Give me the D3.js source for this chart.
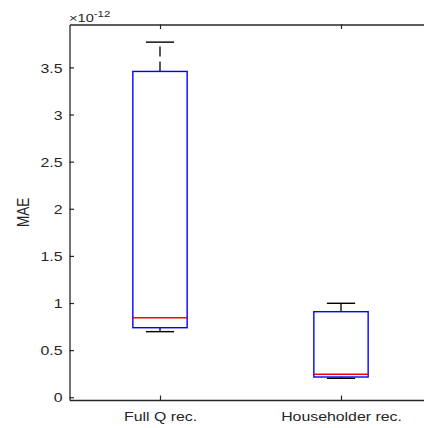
<!DOCTYPE html>
<html>
<head>
<meta charset="utf-8">
<script src="https://cdn.jsdelivr.net/npm/d3@7"></script>
<style>
  html, body { margin: 0; padding: 0; background: #fff; overflow: hidden; }
  svg { display: block; }
  text { font-family: "Liberation Sans", Arial, Helvetica, sans-serif; fill: #262626; }
</style>
</head>
<body>
<svg id="chart" width="424" height="428"></svg>
<script>
// ---- data (units of 1e-12) ----
const categories   = ["Full Q rec.", "Householder rec."];
const whiskerLow   = [0.696, 0.201];
const q1           = [0.738, 0.215];
const medians      = [0.844, 0.244];
const q3           = [3.457, 0.908];
const whiskerHigh  = [3.768, 0.997];
const yTickValues  = [0, 0.5, 1, 1.5, 2, 2.5, 3, 3.5];
const yTickLabels  = ["0", "0.5", "1", "1.5", "2", "2.5", "3", "3.5"];
const yLabel       = "MAE";
const exponentBase = "\u00d710";
const exponentPow  = "-12";

(function () {
// ---- layout ----
const svg = d3.select("#chart");
const mLeft = 69.5, mRight = 431.5, mTop = 24.5, mBottom = 400;
const sx = 1.27; // horizontal glyph stretch seen in the reference
const fs = "12.5px";

const x = d3.scaleLinear().domain([0.5, 2.5]).range([mLeft, mRight]);
const y = d3.scaleLinear().domain([-0.029, 3.955]).range([mBottom, mTop]);
const xPos = categories.map((c, i) => i + 1);

const axisColor = "#262626";

// Y axis (left), ticks inward
const yAxis = d3.axisLeft(y).tickValues(yTickValues)
  .tickFormat((d, i) => yTickLabels[i]).tickSizeInner(-4.5).tickSizeOuter(0);
const gy = svg.append("g").attr("transform", `translate(${mLeft},0)`).call(yAxis);
gy.select(".domain").attr("stroke", axisColor).attr("stroke-width", 1.3);
gy.selectAll(".tick line").attr("stroke", axisColor).attr("stroke-width", 1.2);
gy.selectAll(".tick text")
  .attr("x", null).attr("dy", "0.37em")
  .attr("transform", `translate(-7,0) scale(${sx},1)`)
  .attr("text-anchor", "end").style("font-size", fs)
  .attr("fill", axisColor);

// Right axis (mostly out of view), ticks inward
const yAxisR = d3.axisRight(y).tickValues(yTickValues).tickFormat("").tickSizeInner(-4.5).tickSizeOuter(0);
const gyr = svg.append("g").attr("transform", `translate(${mRight},0)`).call(yAxisR);
gyr.select(".domain").attr("stroke", axisColor).attr("stroke-width", 1.3);
gyr.selectAll(".tick line").attr("stroke", axisColor);

// X axis (bottom), ticks inward
const xAxis = d3.axisBottom(x).tickValues(xPos)
  .tickFormat((d, i) => categories[i]).tickSizeInner(-4.5).tickSizeOuter(0);
const gx = svg.append("g").attr("transform", `translate(0,${mBottom})`).call(xAxis);
gx.select(".domain").attr("stroke", axisColor).attr("stroke-width", 1.3);
gx.selectAll(".tick line").attr("stroke", axisColor).attr("stroke-width", 1.2);
gx.selectAll(".tick text")
  .attr("y", null).attr("dy", null)
  .attr("transform", `translate(0,20.6) scale(${sx},1)`)
  .attr("text-anchor", "middle").style("font-size", fs)
  .attr("fill", axisColor);

// Top axis, ticks inward
const xAxisT = d3.axisTop(x).tickValues(xPos).tickFormat("").tickSizeInner(-4.5).tickSizeOuter(0);
const gxt = svg.append("g").attr("transform", `translate(0,${mTop})`).call(xAxisT);
gxt.select(".domain").attr("stroke", axisColor).attr("stroke-width", 1.3);
gxt.selectAll(".tick line").attr("stroke", axisColor).attr("stroke-width", 1.2);

svg.selectAll("g").attr("font-family", null);

// ---- boxes ----
const boxHalf = 0.15, capHalf = 0.078;
const g = svg.append("g");
xPos.forEach((xv, i) => {
  // upper whisker (dashed, from box to cap)
  g.append("line")
    .attr("x1", x(xv)).attr("x2", x(xv))
    .attr("y1", y(q3[i])).attr("y2", y(whiskerHigh[i]))
    .attr("stroke", "#000").attr("stroke-width", 1.3).attr("stroke-dasharray", "10,5");
  // lower whisker
  g.append("line")
    .attr("x1", x(xv)).attr("x2", x(xv))
    .attr("y1", y(q1[i])).attr("y2", y(whiskerLow[i]))
    .attr("stroke", "#000").attr("stroke-width", 1.3).attr("stroke-dasharray", "10,5");
  // caps
  [whiskerHigh[i], whiskerLow[i]].forEach(v => {
    g.append("line")
      .attr("x1", x(xv - capHalf)).attr("x2", x(xv + capHalf))
      .attr("y1", y(v)).attr("y2", y(v))
      .attr("stroke", "#000").attr("stroke-width", 1.4);
  });
  // box
  g.append("rect")
    .attr("x", x(xv - boxHalf)).attr("width", x(xv + boxHalf) - x(xv - boxHalf))
    .attr("y", y(q3[i])).attr("height", y(q1[i]) - y(q3[i]))
    .attr("fill", "none").attr("stroke", "#0000ff").attr("stroke-width", 1.4);
  // median
  g.append("line")
    .attr("x1", x(xv - boxHalf)).attr("x2", x(xv + boxHalf))
    .attr("y1", y(medians[i])).attr("y2", y(medians[i]))
    .attr("stroke", "#ff0000").attr("stroke-width", 1.4);
});

// ---- labels ----
svg.append("text")
  .attr("transform", `translate(29,212.5) scale(${sx},1) rotate(-90)`)
  .attr("text-anchor", "middle").style("font-size", "13.5px")
  .text(yLabel);

const ex = svg.append("text")
  .attr("transform", `translate(69,22) scale(${sx},1)`)
  .style("font-size", "11.5px");
ex.append("tspan").text(exponentBase);
ex.append("tspan").attr("dy", -5.5).style("font-size", "9px").text(exponentPow);
})();
</script>
</body>
</html>
